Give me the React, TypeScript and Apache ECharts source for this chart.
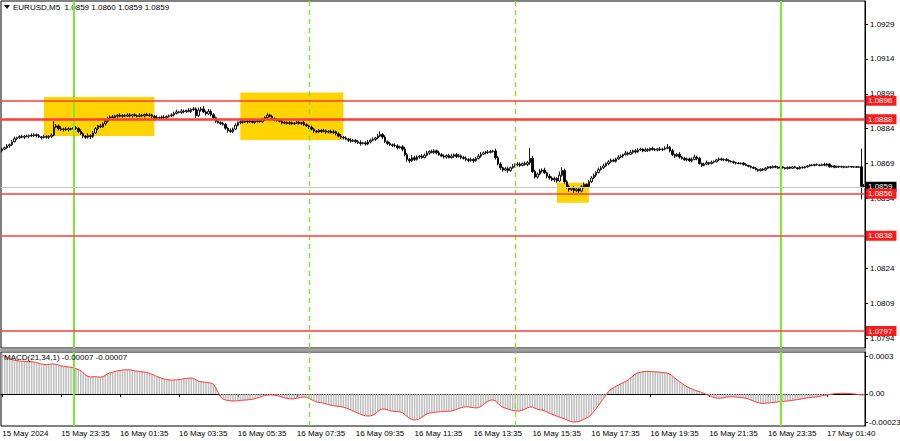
import React, { useEffect, useRef } from "react";
import * as echarts from "echarts";

// Prices are stored in points (0.00001) above 1.08000
const BASE = 1.08;
const PT = 0.00001;
const firstOpen = 745;

const closes = [
  752,758,766,771,784,797,801,806,803,808,
  807,811,809,814,810,805,802,806,803,807,
  812,846,852,840,836,839,835,840,838,845,
  841,828,818,808,803,810,806,822,840,852,
  848,861,872,885,891,888,894,898,893,897,
  894,899,895,900,896,893,898,895,901,897,
  899,893,884,888,886,890,887,892,895,899,
  906,912,910,916,913,918,914,922,925,896,
  920,925,912,904,915,900,887,872,866,862,
  858,842,832,828,838,855,866,870,868,872,
  869,873,867,871,874,870,879,888,898,893,
  884,878,875,872,864,867,862,866,861,864,
  868,862,866,857,852,846,838,830,826,833,
  828,831,825,829,823,827,818,808,803,800,
  795,790,786,790,784,780,776,779,774,783,
  790,794,800,808,815,804,784,776,771,768,
  766,758,762,752,728,708,702,715,708,718,
  722,716,726,735,742,738,745,736,728,722,
  718,725,716,722,728,720,724,716,712,707,
  703,708,702,712,722,730,736,740,738,742,
  744,715,688,672,662,668,660,672,678,684,
  688,682,690,686,694,712,656,632,645,658,
  662,650,636,628,620,626,615,640,660,612,
  590,578,584,574,580,572,590,600,590,612,
  628,640,652,664,672,680,690,698,704,700,
  710,718,722,728,735,730,738,745,740,748,
  752,744,750,747,755,750,748,753,749,752,
  756,760,745,728,722,730,718,712,706,710,
  702,708,718,712,690,682,688,694,690,696,
  698,706,710,706,708,703,700,698,694,692,
  690,692,686,682,678,674,670,664,660,666,
  662,670,676,672,678,674,670,676,672,668,
  674,670,676,672,668,674,672,676,680,684,
  682,686,684,682,686,683,688,676,680,674,
  678,675,677,674,676,677,675,676,674,676,
  592,590,
];

const wickUp = [
  6,4,8,5,7,9,4,6,8,5,
  7,4,9,6,5,7,4,8,6,5,
  7,26,8,6,10,5,8,6,4,9,
  7,5,9,6,4,10,6,8,7,5,
  8,6,10,7,5,8,6,4,8,6,
  5,7,8,4,6,5,8,6,4,7,
  8,5,6,10,4,7,8,5,6,8,
  7,10,5,8,6,4,10,6,8,7,
  10,8,12,6,10,8,7,5,8,6,
  8,6,5,10,7,8,5,6,10,4,
  5,7,4,6,8,4,7,5,10,6,
  7,4,6,5,7,6,4,7,5,4,
  6,7,4,8,6,5,7,6,5,6,
  5,8,6,5,7,8,5,6,9,5,
  7,5,9,6,5,7,10,5,7,9,
  7,9,5,10,14,6,8,5,7,5,
  9,7,5,7,10,8,6,12,9,7,
  5,9,7,10,5,8,7,5,9,7,
  8,5,7,10,5,7,8,5,7,9,
  7,8,5,7,9,10,6,5,8,7,
  5,10,7,8,5,7,9,5,10,7,
  8,7,5,9,7,45,10,8,7,9,
  7,10,5,9,7,8,5,16,14,8,
  7,9,5,10,7,8,7,9,5,7,
  8,7,5,9,7,10,5,7,8,7,
  5,8,7,5,9,7,10,5,7,8,
  6,4,8,6,4,7,6,4,8,6,
  8,14,6,8,5,6,9,4,7,6,
  6,8,10,6,7,4,6,9,4,7,
  5,4,6,5,4,5,6,4,5,4,
  4,3,5,6,3,4,3,6,4,3,
  4,5,3,4,3,4,5,3,4,3,
  3,4,3,4,3,5,3,4,3,4,
  4,3,5,3,4,8,5,3,4,3,
  3,3,4,3,3,4,3,3,4,3,
  78,10,
];

const wickDown = [
  7,5,4,8,6,4,7,5,4,7,
  4,7,5,4,7,5,8,4,6,7,
  7,5,4,7,6,8,4,7,5,4,
  6,7,5,9,7,6,10,5,4,7,
  5,4,7,6,8,4,5,7,4,6,
  5,4,6,7,4,5,4,6,7,4,
  6,7,9,5,7,4,6,7,4,5,
  7,5,4,6,7,5,4,7,6,10,
  6,7,5,8,6,7,5,7,4,6,
  5,7,9,6,7,4,5,7,6,4,
  6,5,4,6,5,4,5,6,5,4,
  5,6,4,5,6,5,4,5,6,5,
  4,5,6,5,4,7,5,8,6,4,
  6,4,7,5,4,6,7,5,7,6,
  4,7,6,4,7,6,9,4,7,5,
  6,4,7,5,4,9,6,7,5,7,
  6,7,4,9,7,10,9,6,7,5,
  7,6,4,5,7,4,6,7,5,4,
  6,7,4,5,7,6,4,7,5,7,
  7,5,9,4,5,7,4,6,7,4,
  5,8,6,9,7,5,10,6,4,5,
  6,7,4,5,7,9,7,6,7,5,
  7,5,9,7,6,9,7,5,7,9,
  7,9,6,10,7,9,6,7,5,4,
  5,4,7,5,4,6,4,7,5,4,
  6,4,5,7,4,5,4,6,7,4,
  4,5,4,7,5,4,5,6,4,5,
  5,4,7,5,8,4,7,5,4,7,
  5,7,4,8,5,7,4,5,7,4,
  5,4,5,4,6,4,5,4,5,6,
  3,4,5,3,4,5,4,3,5,4,
  4,3,4,5,3,4,3,5,4,3,
  3,4,3,3,4,3,4,3,4,3,
  3,4,3,4,3,4,5,4,3,4,
  3,3,3,4,3,3,3,4,3,3,
  56,2,
];

// MACD(21,34,1) main values in units of 0.000001
const macd = [
  313,305,296,285,276,270,268,265,263,262,
  261,260,259,257,252,246,240,237,236,238,
  240,241,238,232,226,222,220,217,214,210,
  203,196,186,170,152,140,137,138,139,137,
  136,138,150,162,170,176,181,186,189,192,
  194,195,194,190,186,182,180,178,176,172,
  166,158,150,141,133,126,120,116,113,111,
  112,114,116,119,122,125,127,128,124,113,
  103,98,96,93,90,88,80,50,10,-25,
  -42,-48,-52,-55,-56,-56,-54,-52,-50,-49,
  -47,-45,-42,-38,-32,-25,-18,-12,-9,-8,
  -8,-10,-14,-18,-24,-30,-35,-38,-40,-38,
  -34,-30,-26,-24,-27,-35,-45,-55,-63,-68,
  -70,-74,-80,-86,-90,-94,-97,-100,-102,-106,
  -112,-120,-128,-137,-146,-155,-163,-170,-175,-177,
  -176,-170,-158,-140,-126,-120,-122,-128,-134,-138,
  -140,-142,-143,-150,-165,-182,-196,-205,-209,-207,
  -198,-186,-172,-160,-153,-150,-148,-145,-143,-141,
  -140,-139,-138,-137,-132,-124,-116,-110,-105,-103,
  -104,-107,-110,-112,-110,-100,-86,-70,-58,-50,
  -48,-56,-75,-95,-108,-114,-120,-126,-132,-136,
  -137,-135,-130,-122,-112,-104,-106,-114,-122,-127,
  -130,-136,-145,-155,-163,-170,-178,-186,-193,-200,
  -208,-216,-222,-225,-224,-220,-212,-203,-193,-182,
  -165,-140,-115,-88,-62,-35,-8,20,38,50,
  62,72,82,92,100,112,128,145,163,170,
  175,178,180,181,180,179,178,176,175,172,
  170,168,160,145,128,112,98,84,70,58,
  48,40,32,25,19,12,4,-5,-14,-22,
  -28,-33,-35,-33,-30,-26,-24,-22,-23,-25,
  -27,-29,-30,-34,-40,-48,-56,-64,-70,-75,
  -76,-74,-72,-70,-68,-66,-64,-62,-60,-58,
  -56,-54,-51,-48,-45,-42,-38,-35,-31,-28,
  -27,-25,-22,-19,-15,-11,-8,-5,-2,2,
  4,5,6,6,5,3,2,0,-2,-5,
  -8,-8,
];

const xTickLabels: [number, string][] = [
  [0, "15 May 2024"],
  [24, "15 May 23:35"],
  [48, "16 May 01:35"],
  [72, "16 May 03:35"],
  [96, "16 May 05:35"],
  [120, "16 May 07:35"],
  [144, "16 May 09:35"],
  [168, "16 May 11:35"],
  [192, "16 May 13:35"],
  [216, "16 May 15:35"],
  [240, "16 May 17:35"],
  [264, "16 May 19:35"],
  [288, "16 May 21:35"],
  [312, "16 May 23:35"],
  [336, "17 May 01:40"],
];

const priceTicks = [1.0929, 1.0914, 1.0899, 1.0884, 1.0869, 1.0854, 1.0838, 1.0824, 1.0809, 1.0794];
const priceMin = 1.078971;
const priceMax = 1.093889;

const levelPrices = [1.0896, 1.0888, 1.0856, 1.0838, 1.0797];
const mainLevel = 1.0888;
const bidPrice = 1.0859;

// [firstBar, lastBar, topPrice, bottomPrice]
const zones: [number, number, number, number][] = [
  [17, 62, 1.08976, 1.08808],
  [97, 139, 1.08995, 1.08791],
  [226, 239, 1.08608, 1.08522],
];

const dayLines = [29, 317];
const sessionLines = [125, 209];

const macdTicks = [0.0003, 0, -0.00023];
const macdTickLabels = ["0.0003", "0.00", "-0.00023"];
const macdMin = -0.000257;
const macdMax = 0.000337;

const titleText = "EURUSD,M5  1.0859 1.0860 1.0859 1.0859";
const macdTitle = "MACD(21,34,1) -0.00007 -0.00007";

const FONT = "Liberation Sans";

export default function App() {
  const ref = useRef<HTMLDivElement>(null);

  useEffect(() => {
    if (!ref.current) return;
    const chart = echarts.init(ref.current, undefined, { renderer: "svg" });

    const cats = closes.map((_, i) => String(i));
    const candles = closes.map((c, i) => {
      const o = i === 0 ? firstOpen : closes[i - 1];
      const hi = Math.max(o, c) + wickUp[i];
      const lo = Math.min(o, c) - wickDown[i];
      return [o, c, lo, hi].map((p) => +(BASE + p * PT).toFixed(5));
    });
    const macdVals = macd.map((v) => v * 1e-6);
    const labelAt = new Map<number, string>(xTickLabels);

    const tagLabel = (text: string, bg: string) => ({
      show: true,
      position: "end",
      distance: 1,
      formatter: text,
      color: "#fff",
      backgroundColor: bg,
      fontSize: 8,
      fontFamily: FONT,
      padding: [1, 4, 1, 2],
      lineHeight: 8,
    });

    const verticalLines = [
      ...dayLines.map((d) => ({
        xAxis: d,
        lineStyle: { color: "#7ee832", width: 2, type: "solid" },
        label: { show: false },
      })),
      ...sessionLines.map((d) => ({
        xAxis: d,
        lineStyle: { color: "#84e03c", width: 1.4, type: [5, 4] },
        label: { show: false },
      })),
    ];

    const option: any = {
      animation: false,
      backgroundColor: "#ffffff",
      textStyle: { fontFamily: FONT },
      grid: [
        { left: 1, top: 1, width: 864, height: 347, show: true, borderColor: "#000", borderWidth: 1, backgroundColor: "transparent", outerBoundsMode: "none" },
        { left: 1, top: 352, width: 864, height: 74, show: true, borderColor: "#000", borderWidth: 1, backgroundColor: "transparent", outerBoundsMode: "none" },
      ],
      xAxis: [
        {
          type: "category",
          gridIndex: 0,
          data: cats,
          boundaryGap: true,
          axisLine: { show: false },
          axisTick: { show: false },
          axisLabel: { show: false },
          splitLine: { show: false },
        },
        {
          type: "category",
          gridIndex: 1,
          data: cats,
          boundaryGap: true,
          axisLine: { show: true, lineStyle: { color: "#000", width: 1 } },
          axisTick: {
            show: true,
            alignWithLabel: true,
            length: 3,
            interval: (i: number) => labelAt.has(i),
            lineStyle: { color: "#000" },
          },
          axisLabel: {
            show: true,
            interval: (i: number) => labelAt.has(i),
            formatter: (_v: string, i: number) => labelAt.get(i) ?? "",
            align: "left",
            fontSize: 8,
            color: "#000",
            margin: 3,
            fontFamily: FONT,
          },
          splitLine: { show: false },
        },
      ],
      yAxis: [
        {
          type: "value",
          gridIndex: 0,
          position: "right",
          min: priceMin,
          max: priceMax,
          axisLine: { show: true, lineStyle: { color: "#000" } },
          axisTick: { show: true, length: 3, customValues: priceTicks, lineStyle: { color: "#000" } },
          axisLabel: {
            show: true,
            customValues: priceTicks,
            formatter: (v: number) => v.toFixed(4),
            fontSize: 8,
            color: "#000",
            margin: 5,
            fontFamily: FONT,
          },
          splitLine: { show: false },
        },
        {
          type: "value",
          gridIndex: 1,
          position: "right",
          min: macdMin,
          max: macdMax,
          axisLine: { show: true, lineStyle: { color: "#000" } },
          axisTick: { show: true, length: 3, customValues: macdTicks, lineStyle: { color: "#000" } },
          axisLabel: {
            show: true,
            customValues: macdTicks,
            formatter: (v: number) => {
              const k = macdTicks.findIndex((t) => Math.abs(t - v) < 1e-9);
              return k >= 0 ? macdTickLabels[k] : "";
            },
            fontSize: 8,
            color: "#000",
            margin: 4,
            fontFamily: FONT,
          },
          splitLine: { show: false },
        },
      ],
      series: [
        {
          type: "candlestick",
          name: "EURUSD",
          xAxisIndex: 0,
          yAxisIndex: 0,
          data: candles,
          barWidth: 2,
          itemStyle: {
            color: "#ffffff",
            color0: "#000000",
            borderColor: "#000000",
            borderColor0: "#000000",
            borderWidth: 0.9,
          },
          markArea: {
            silent: true,
            itemStyle: { color: "#ffd400", opacity: 1 },
            data: zones.map((z) => [
              { xAxis: z[0], yAxis: z[2] },
              { xAxis: z[1], yAxis: z[3] },
            ]),
          },
          markLine: {
            silent: true,
            symbol: ["none", "none"],
            precision: 6,
            animation: false,
            data: [
              ...verticalLines,
              {
                yAxis: bidPrice,
                lineStyle: { color: "#c8c8c8", width: 1.2, type: "solid" },
                label: tagLabel(bidPrice.toFixed(4), "#000000"),
              },
              ...levelPrices.map((p) => ({
                yAxis: p,
                lineStyle: { color: "#ff3d3d", width: p === mainLevel ? 2.5 : 1.5, type: "solid" },
                label: tagLabel(p.toFixed(4), "#ff1a1a"),
              })),
            ],
          },
        },
        {
          type: "bar",
          name: "MACD",
          xAxisIndex: 1,
          yAxisIndex: 1,
          data: macdVals,
          barWidth: 1.5,
          itemStyle: { color: "#bdbdbd" },
          markLine: {
            silent: true,
            symbol: ["none", "none"],
            animation: false,
            data: verticalLines,
          },
        },
        {
          type: "line",
          name: "Signal",
          xAxisIndex: 1,
          yAxisIndex: 1,
          data: macdVals,
          showSymbol: false,
          symbol: "none",
          lineStyle: { color: "#ff3b3b", width: 1 },
          z: 4,
        },
      ],
      graphic: [
        {
          type: "rect",
          shape: { x: 0, y: 348.5, width: 866, height: 3 },
          style: { fill: "#a0a0a0" },
          silent: true,
        },
        {
          type: "polygon",
          shape: { points: [[4, 5], [10, 5], [7, 9]] },
          style: { fill: "#000" },
          silent: true,
        },
        {
          type: "text",
          x: 13,
          y: 3,
          style: { text: titleText, fill: "#000", fontSize: 8, fontFamily: FONT },
          silent: true,
        },
        {
          type: "text",
          x: 4,
          y: 353,
          style: { text: macdTitle, fill: "#000", fontSize: 8, fontFamily: FONT },
          silent: true,
          z: 10,
        },
      ],
    };

    chart.setOption(option);
    return () => chart.dispose();
  }, []);

  return (
    <div
      ref={ref}
      style={{ position: "absolute", left: 0, top: 0, width: 900, height: 441, background: "#fff" }}
    />
  );
}
